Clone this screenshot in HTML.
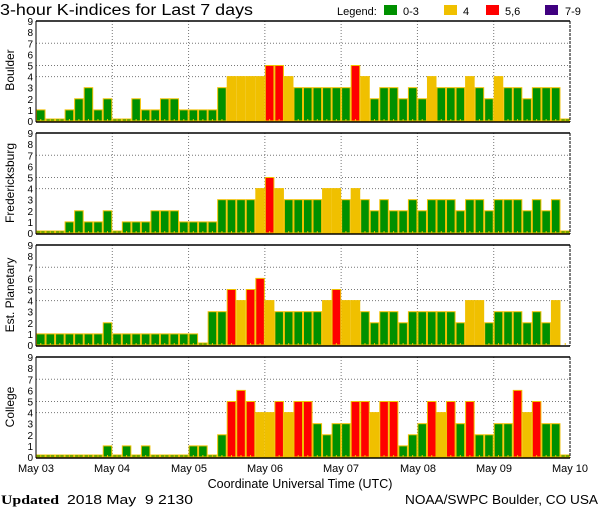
<!DOCTYPE html>
<html><head><meta charset="utf-8"><style>
html,body{margin:0;padding:0;background:#fff;}
svg{display:block;font-family:"Liberation Sans",sans-serif;}
</style></head><body>
<svg id="s" width="600" height="510" xmlns="http://www.w3.org/2000/svg">
<rect width="600" height="510" fill="#fff"/>
<text x="0" y="15" font-size="15.5" textLength="253" lengthAdjust="spacingAndGlyphs">3-hour K-indices for Last 7 days</text>
<text x="337" y="15" font-size="11">Legend:</text>
<rect x="384" y="5" width="13" height="10" fill="#009000"/><text x="403" y="15" font-size="11">0-3</text>
<rect x="444" y="5" width="13" height="10" fill="#f0c000"/><text x="463" y="15" font-size="11">4</text>
<rect x="486" y="5" width="13" height="10" fill="#ff0000"/><text x="505" y="15" font-size="11">5,6</text>
<rect x="545" y="5" width="13" height="10" fill="#400080"/><text x="565" y="15" font-size="11">7-9</text>
<g id="g"></g>
<g font-size="11" text-anchor="middle">
<text x="36" y="472">May 03</text><text x="112" y="472">May 04</text><text x="189" y="472">May 05</text><text x="265" y="472">May 06</text><text x="341" y="472">May 07</text><text x="418" y="472">May 08</text><text x="494" y="472">May 09</text><text x="570" y="472">May 10</text>
</g>
<text x="300" y="488" font-size="12.5" text-anchor="middle">Coordinate Universal Time (UTC)</text>
<text x="1" y="504" font-size="13" font-family="Liberation Serif" font-weight="bold" textLength="58" lengthAdjust="spacingAndGlyphs">Updated</text>
<text x="67" y="504" font-size="13" textLength="126" lengthAdjust="spacingAndGlyphs">2018 May&#160;&#160;9 2130</text>
<text x="598" y="504" font-size="12.5" text-anchor="end" textLength="193" lengthAdjust="spacingAndGlyphs">NOAA/SWPC Boulder, CO USA</text>
<g font-size="12" text-anchor="middle">
<text transform="translate(14,70) rotate(-90)">Boulder</text>
<text transform="translate(14,183) rotate(-90)">Fredericksburg</text>
<text transform="translate(14,295) rotate(-90)">Est. Planetary</text>
<text transform="translate(14,407) rotate(-90)">College</text>
</g>
</svg>
<script>
var data=[
[1,0,0,1,2,3,1,2,0,0,2,1,1,2,2,1,1,1,1,3,4,4,4,4,5,5,4,3, 3,3,3,3,3,5,4,2,3,3,2,3,2,4,3,3,3,4,3,2,4,3,3,2,3,3,3,0],
[0,0,0,1,2,1,1,2,0,1,1,1,2,2,2,1,1,1,1,3,3,3,3,4,5,4,3,3, 3,3,4,4,3,4,3,2,3,2,2,3,2,3,3,3,2,3,3,2,3,3,3,2,3,2,3,0],
[1,1,1,1,1,1,1,2,1,1,1,1,1,1,1,1,1,0,3,3,5,4,5,6,4,3,3,3, 3,3,4,5,4,4,3,2,3,3,2,3,3,3,3,3,2,4,4,2,3,3,3,2,3,2,4,-1],
[0,0,0,0,0,0,0,1,0,1,0,1,0,0,0,0,1,1,0,2,5,6,5,4,4,5,4,5, 5,3,2,3,3,5,5,4,5,5,1,2,3,5,4,5,3,5,2,2,3,3,6,4,5,3,3,0]];
var tops=[21,133,245,357],NS="http://www.w3.org/2000/svg",g=document.getElementById('g');
function el(t,a){var e=document.createElementNS(NS,t);for(var k in a)e.setAttribute(k,a[k]);g.appendChild(e);return e;}
var L=36,R=570,bw=(R-L)/56,u=11.1;
data.forEach(function(d,p){
 var t=tops[p],b=t+100;
 el('rect',{x:L,y:t-1,width:R-L,height:102,fill:'#fff'});
 [4,5,7].forEach(function(v){el('line',{x1:L,x2:R,y1:b-v*u,y2:b-v*u,stroke:'#777','stroke-dasharray':'1,2'});});
 for(var k=1;k<7;k++){var x=L+k*(R-L)/7;el('line',{x1:x,x2:x,y1:t,y2:b,stroke:'#777','stroke-dasharray':'1,2'});}
 d.forEach(function(v,i){
  var x=L+i*bw;
  if(v>=0){var h=v==0?2:v*u;var c=v<=3?'#009000':v==4?'#f0c000':v<=6?'#ff0000':'#400080';
  el('rect',{x:x+0.5,y:b-h,width:bw-1,height:h,fill:c,stroke:'#f0c000','stroke-width':1});}
  el('rect',{x:x+bw/2-0.5,y:b-2,width:1,height:2,fill:'#f0c000'});
 });
 el('line',{x1:L,x2:R,y1:t,y2:t,stroke:'#000','stroke-width':1.5});
 el('line',{x1:L,x2:R,y1:b+1,y2:b+1,stroke:'#000','stroke-width':1.5});
 el('line',{x1:L,x2:L,y1:t,y2:b+1,stroke:'#000','stroke-width':1});
 el('line',{x1:R,x2:R,y1:t,y2:b+1,stroke:'#000','stroke-width':1,'stroke-dasharray':'3,1'});
 for(var v=0;v<=9;v++){var e=el('text',{x:33,y:b-v*u+4,'font-size':10,'text-anchor':'end'});e.textContent=v;}
});
</script>
</body></html>
